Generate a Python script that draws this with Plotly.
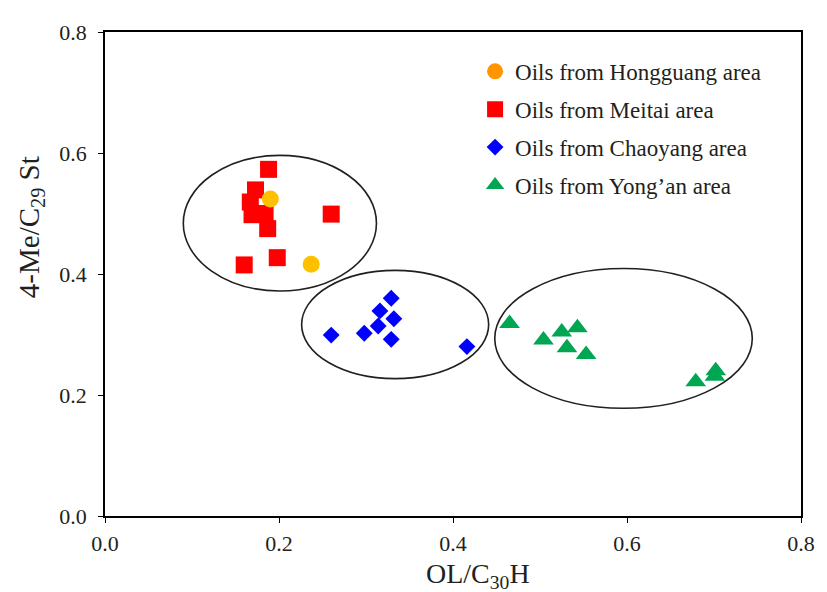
import plotly.graph_objects as go

# ---- data ----
hong_x = [0.190, 0.237]
hong_y = [0.524, 0.416]

meitai_x = [0.188, 0.173, 0.167, 0.169, 0.184, 0.187, 0.260, 0.198, 0.160]
meitai_y = [0.573, 0.539, 0.519, 0.498, 0.500, 0.475, 0.499, 0.427, 0.415]

chao_x = [0.329, 0.316, 0.332, 0.314, 0.298, 0.260, 0.329, 0.416]
chao_y = [0.360, 0.339, 0.326, 0.314, 0.302, 0.299, 0.292, 0.280]

yong_x = [0.465, 0.504, 0.525, 0.543, 0.531, 0.553, 0.679, 0.702, 0.701]
yong_y = [0.318, 0.291, 0.304, 0.311, 0.278, 0.267, 0.222, 0.240, 0.231]

# cluster ellipses: (x0, x1, y0, y1) in data units
cluster_ellipses = [
    (0.090, 0.312, 0.372, 0.596),
    (0.226, 0.441, 0.227, 0.406),
    (0.448, 0.744, 0.178, 0.409),
]

tick_vals = [0.0, 0.2, 0.4, 0.6, 0.8]
tick_text = ["0.0", "0.2", "0.4", "0.6", "0.8"]

names = ["Oils from Hongguang area", "Oils from Meitai area",
         "Oils from Chaoyang area", "Oils from Yong\u2019an area"]

FONT = "Liberation Serif, Times New Roman, serif"
INK = "#231F20"

fig = go.Figure()

# legend-only entry for Hongguang (legend swatch is orange)
fig.add_trace(go.Scatter(x=[None], y=[None], mode="markers", name=names[0],
                         legendgroup="g1", legendrank=1,
                         marker=dict(symbol="circle", size=17, color="#FF9600")))
fig.add_trace(go.Scatter(x=meitai_x, y=meitai_y, mode="markers", name=names[1],
                         legendgroup="g2", legendrank=2,
                         marker=dict(symbol="square", size=17, color="#FF0000")))
fig.add_trace(go.Scatter(x=hong_x, y=hong_y, mode="markers", name=names[0],
                         showlegend=False, legendgroup="g1",
                         marker=dict(symbol="circle", size=17, color="#FFC000")))
fig.add_trace(go.Scatter(x=chao_x, y=chao_y, mode="markers", name=names[2],
                         legendgroup="g3", legendrank=3,
                         marker=dict(symbol="diamond", size=13, color="#0000FF")))
fig.add_trace(go.Scatter(x=yong_x, y=yong_y, mode="markers", name=names[3],
                         legendgroup="g4", legendrank=4,
                         marker=dict(symbol="triangle-up", size=18, color="#00A651")))

for (x0, x1, y0, y1) in cluster_ellipses:
    fig.add_shape(type="circle", xref="x", yref="y", x0=x0, x1=x1, y0=y0, y1=y1,
                  line=dict(color=INK, width=1.6), layer="below")

axis_common = dict(
    range=[0, 0.8], tickvals=tick_vals, ticktext=tick_text,
    showline=True, linecolor="black", linewidth=1.6, mirror=True,
    ticks="outside", ticklen=5, tickwidth=1.4, tickcolor="black",
    showgrid=False, zeroline=False,
    tickfont=dict(family=FONT, size=22, color=INK),
)

fig.update_xaxes(**axis_common, ticklabelstandoff=2)
fig.update_yaxes(**axis_common, ticklabelstandoff=7)

fig.add_annotation(text="OL/C<sub>30</sub>H", xref="paper", yref="paper",
                   x=(481 - 105) / 701.5, y=(516.5 - 576) / 487.5,
                   showarrow=False, xanchor="center", yanchor="middle",
                   font=dict(family=FONT, size=28, color=INK))
fig.add_annotation(text="4-Me/C<sub>29</sub> St", xref="paper", yref="paper",
                   x=(30 - 105) / 701.5, y=(516.5 - 226) / 487.5, textangle=-90,
                   showarrow=False, xanchor="center", yanchor="middle",
                   font=dict(family=FONT, size=29, color=INK))

fig.update_layout(
    width=819, height=584,
    margin=dict(l=97, r=17, t=18, b=75.5),
    paper_bgcolor="white", plot_bgcolor="white",
    legend=dict(x=(478 - 105) / 701.5, y=(516.5 - 47) / 487.5,
                xanchor="left", yanchor="top", bgcolor="rgba(0,0,0,0)",
                font=dict(family=FONT, size=23, color=INK),
                tracegroupgap=5, itemsizing="trace"),
    showlegend=True,
)

fig.write_html("out.html")
